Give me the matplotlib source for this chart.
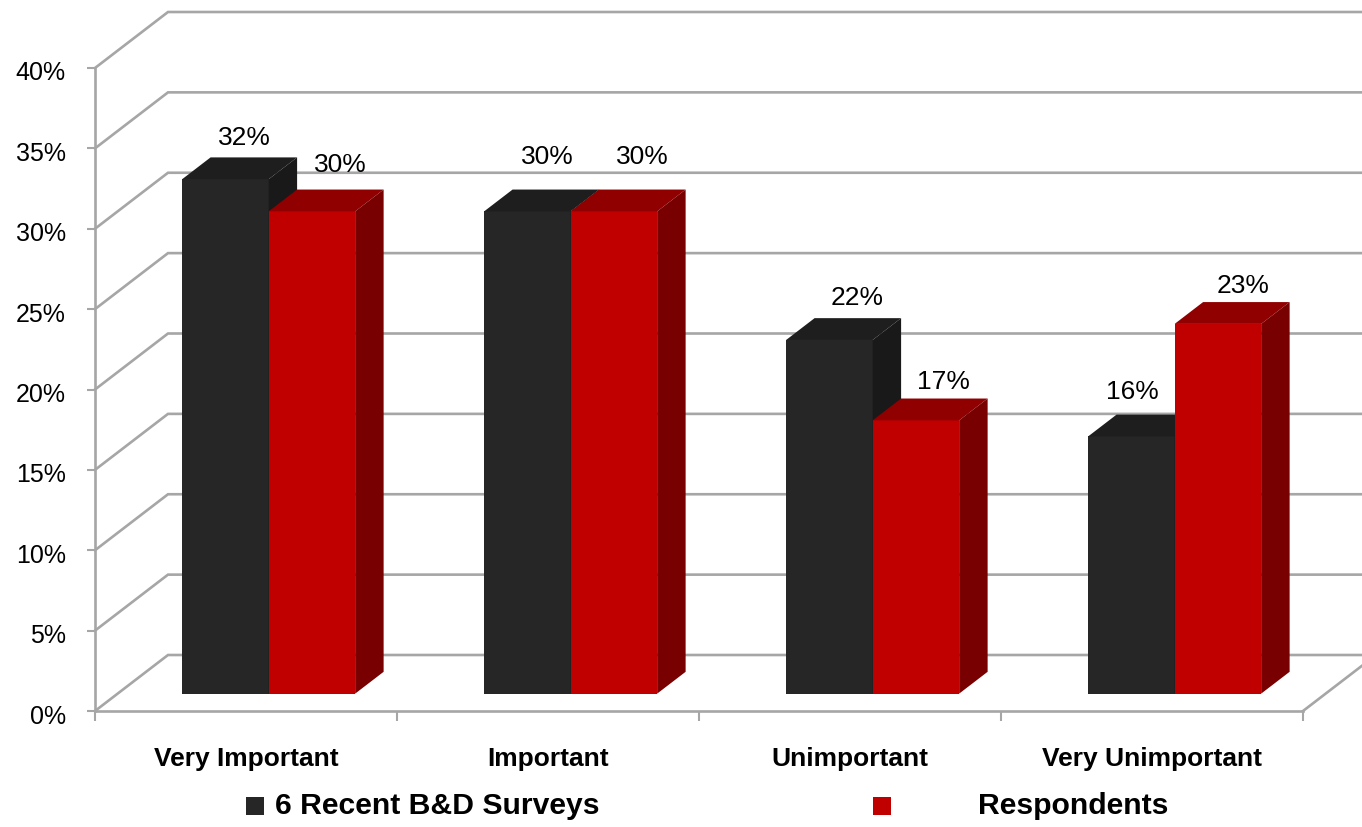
import matplotlib
matplotlib.use("Agg")
import matplotlib.pyplot as plt
from matplotlib.patches import Polygon, Rectangle
from matplotlib.ticker import FixedLocator, FuncFormatter
from matplotlib.transforms import ScaledTranslation

# ---- data ----
categories = ["Very Important", "Important", "Unimportant", "Very Unimportant"]
series_names = ["6 Recent B&D Surveys", "Respondents"]
surveys = [32, 30, 22, 16]
respondents = [30, 30, 17, 23]
y_ticks = [0, 5, 10, 15, 20, 25, 30, 35, 40]

# ---- style ----
FONT = ["Liberation Sans Narrow", "Liberation Sans", "DejaVu Sans"]
plt.rcParams["font.family"] = FONT
GRID = "#a6a6a6"
face_colors = [("#262626", "#1e1e1e", "#191919"),   # front, top, side
               ("#c00000", "#900000", "#780000")]
# label nudges (pixels) relative to the back edge of each bar top
label_nudge = [[(-9, 19), (-8, 33), (-1, 20), (-27, 23)],
               [(0, 25), (0, 33), (-1, 17), (-3, 16)]]

W, H, DPI = 1362, 827, 100
fig = plt.figure(figsize=(W / DPI, H / DPI), dpi=DPI)
ax = fig.add_axes([95 / W, 116 / H, 1208 / W, 643 / H])
ncat = len(categories)
ax.set_xlim(0, ncat)
ax.set_ylim(0, 40)

# oblique depth projection expressed in data units
px_x = 1208 / ncat          # pixels per category
px_y = 643 / 40             # pixels per percent
KX = 73 / px_x
KY = 56 / px_y


def proj(x, y, z):
    return (x + z * KX, y + z * KY)


# back wall, side wall and floor grid
for v in y_ticks:
    ax.plot(*zip(proj(0, v, 0), proj(0, v, 1), proj(ncat, v, 1)),
            color=GRID, lw=1.9, clip_on=False, zorder=1,
            solid_joinstyle="miter")
ax.plot(*zip(proj(ncat, 0, 0), proj(ncat, 0, 1)), color=GRID, lw=1.9,
        clip_on=False, zorder=1)

# 3-D bars
Z0, Z1 = 0.31, 0.70
bw = 0.2865
for i in range(ncat):
    for s, vals in enumerate([surveys, respondents]):
        h = vals[i]
        x0 = i + 0.5 - bw + s * bw
        x1 = x0 + bw
        front, top, side = face_colors[s]
        ax.add_patch(Polygon([proj(x0, 0, Z0), proj(x1, 0, Z0),
                              proj(x1, h, Z0), proj(x0, h, Z0)],
                             closed=True, fc=front, ec="none",
                             clip_on=False, zorder=3))
        ax.add_patch(Polygon([proj(x0, h, Z0), proj(x1, h, Z0),
                              proj(x1, h, Z1), proj(x0, h, Z1)],
                             closed=True, fc=top, ec="none",
                             clip_on=False, zorder=3))
        ax.add_patch(Polygon([proj(x1, 0, Z0), proj(x1, 0, Z1),
                              proj(x1, h, Z1), proj(x1, h, Z0)],
                             closed=True, fc=side, ec="none",
                             clip_on=False, zorder=3))
        xc = (x0 + x1) / 2
        dx, dy = label_nudge[s][i]
        ax.annotate(f"{h}%", xy=proj(xc, h, Z1), xytext=(dx, dy),
                    textcoords="offset pixels", ha="center", va="center",
                    fontsize=19, color="black", zorder=5,
                    annotation_clip=False)

# axes lines and ticks
for name in ("top", "right"):
    ax.spines[name].set_visible(False)
for name in ("left", "bottom"):
    ax.spines[name].set_color(GRID)
    ax.spines[name].set_linewidth(1.9)
    ax.spines[name].set_zorder(2)
ax.set_facecolor("none")

ax.yaxis.set_major_locator(FixedLocator(y_ticks))
ax.yaxis.set_major_formatter(FuncFormatter(lambda v, p: f"{v:.0f}%"))
ax.tick_params(axis="y", which="major", length=6, width=1.5, color=GRID,
               pad=15, labelsize=18, direction="out")
shift_down = ScaledTranslation(0, -3 / DPI, fig.dpi_scale_trans)
for lbl in ax.get_yticklabels():
    lbl.set_transform(lbl.get_transform() + shift_down)

ax.xaxis.set_major_locator(FixedLocator(list(range(ncat + 1))))
ax.xaxis.set_major_formatter(FuncFormatter(lambda v, p: ""))
ax.xaxis.set_minor_locator(FixedLocator([i + 0.5 for i in range(ncat)]))
ax.set_xticklabels(categories, minor=True, fontsize=19, fontweight="bold")
ax.tick_params(axis="x", which="major", length=7, width=1.5, color=GRID,
               direction="out")
ax.tick_params(axis="x", which="minor", length=0, pad=26)

# legend
leg_items = [(246, 275, face_colors[0][0], series_names[0]),
             (873, 978, face_colors[1][0], series_names[1])]
for sx, tx, col, name in leg_items:
    fig.patches.append(Rectangle((sx / W, (H - 815) / H), 18 / W, 18 / H,
                                 transform=fig.transFigure, fc=col,
                                 ec="none"))
    fig.text(tx / W, (H - 806) / H, name, ha="left", va="center",
             fontsize=21.7, fontweight="bold", color="black")

fig.savefig("out.png", dpi=DPI, facecolor="white")
